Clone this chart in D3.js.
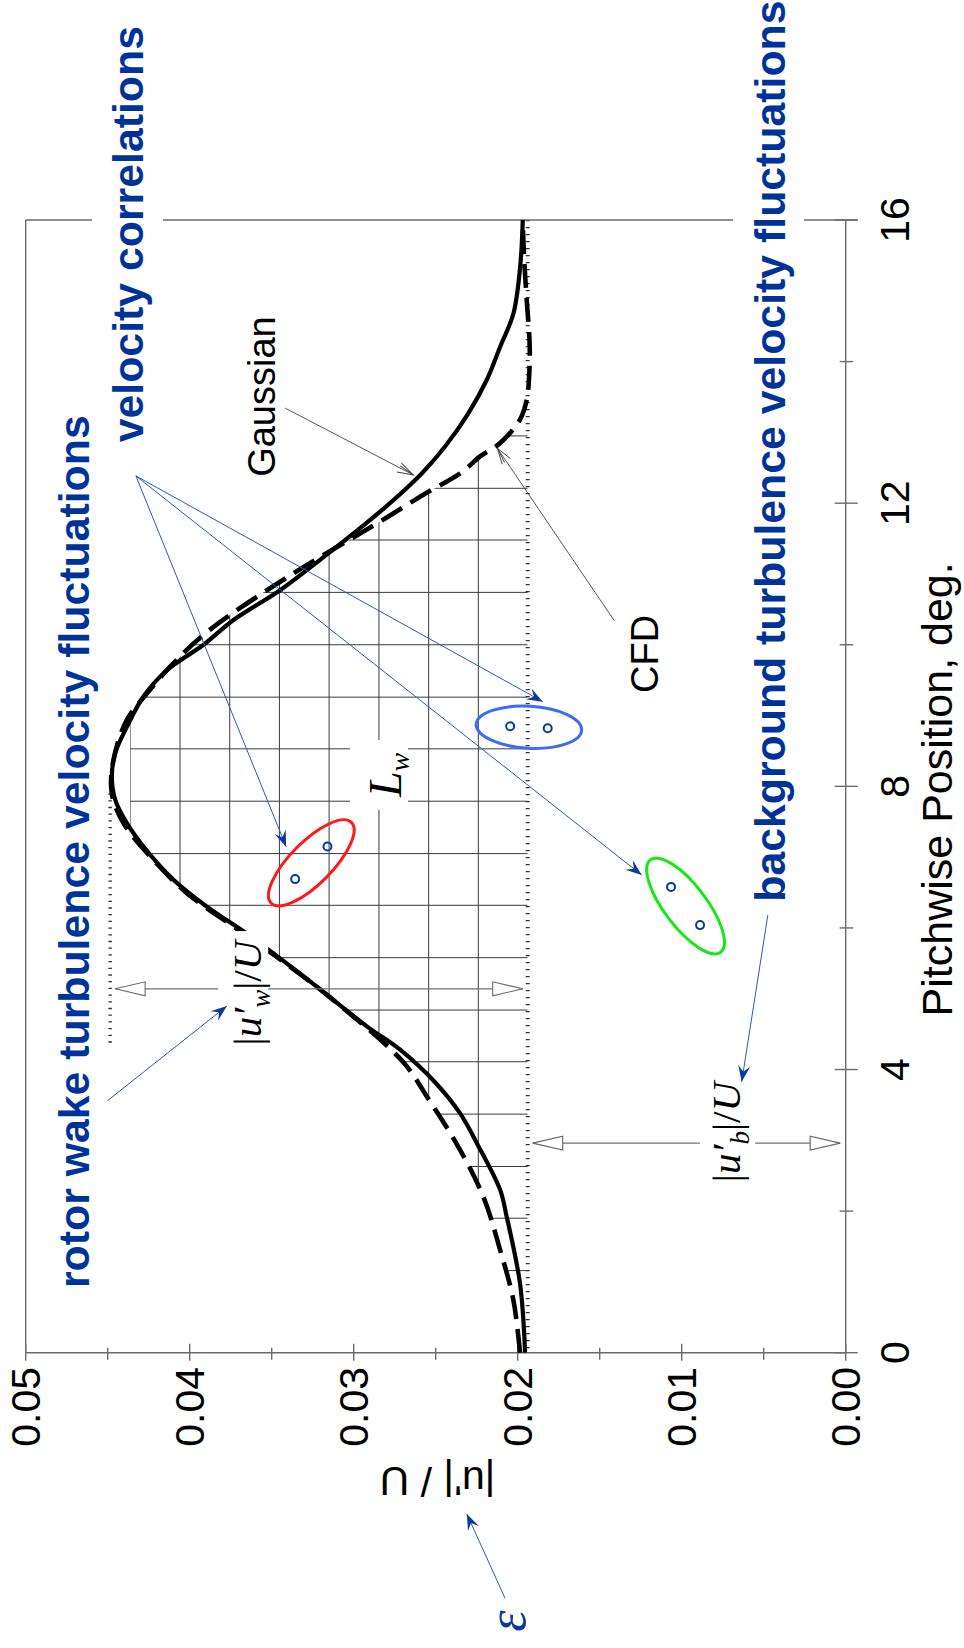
<!DOCTYPE html>
<html><head><meta charset="utf-8">
<script src="https://cdn.jsdelivr.net/npm/d3@7"></script>
<style>body{margin:0;background:#fff} svg{display:block}</style>
</head><body>
<svg id="c" width="964" height="1648"></svg>
<script>
// ---------------- data ----------------
const valueTicks = [0, 0.01, 0.02, 0.03, 0.04, 0.05];
const valueTickLabels = ["0.00", "0.01", "0.02", "0.03", "0.04", "0.05"];
const valueMinorTicks = [0.005, 0.015, 0.025, 0.035, 0.045];
const pitchTicks = [0, 4, 8, 12, 16];
const pitchTickLabels = ["0", "4", "8", "12", "16"];
const pitchMinorTicks = [2, 6, 10, 14];

const gaussPitch = [0, 0.98, 1.92, 2.30, 2.96, 3.38, 3.81, 4.28, 4.61, 5.17, 5.64, 5.92, 6.30, 6.68, 7.15, 7.48, 7.81, 8.14, 8.47, 8.84, 9.27, 9.64, 10.00, 10.35, 10.77, 11.20, 11.88, 12.42, 12.80, 13.27, 13.74, 14.21, 14.68, 15.34, 16.0];
const gaussValue = [0.01955, 0.01986, 0.02067, 0.02107, 0.02249, 0.02351, 0.02500, 0.02717, 0.02920, 0.03225, 0.03489, 0.03652, 0.03895, 0.04099, 0.04282, 0.04383, 0.04454, 0.04475, 0.04454, 0.04383, 0.04282, 0.04139, 0.03916, 0.03733, 0.03449, 0.03205, 0.02839, 0.02585, 0.02443, 0.02301, 0.02189, 0.02107, 0.02026, 0.01985, 0.01969];

const cfdPitch = [0, 0.74, 1.45, 2.20, 2.90, 3.62, 4.11, 4.98, 5.59, 6.02, 6.49, 6.96, 7.48, 7.90, 8.37, 8.94, 9.31, 9.69, 10.18, 11.01, 11.74, 12.12, 12.42, 12.66, 12.85, 13.18, 13.46, 13.90, 14.30, 14.87, 15.43, 16.0];
const cfdValue = [0.01986, 0.02026, 0.02107, 0.02209, 0.02360, 0.02554, 0.02700, 0.03124, 0.03469, 0.03733, 0.04017, 0.04221, 0.04404, 0.04475, 0.04465, 0.04383, 0.04261, 0.04119, 0.03895, 0.03367, 0.02839, 0.02575, 0.02351, 0.02229, 0.02107, 0.01986, 0.01945, 0.01928, 0.01928, 0.01945, 0.01960, 0.01970];

const backgroundLevel = 0.01939;
const peakLevel = 0.04485;
const peakLinePitch = [4.37, 7.9];

const gridPitch = [12.95, 12.21, 11.48, 10.74, 10.00, 9.26, 8.53, 7.79, 7.05, 6.32, 5.58, 4.84, 4.11, 3.37, 2.63, 1.90, 1.16];
const gridValue = [0.04363, 0.04059, 0.03756, 0.03453, 0.03150, 0.02846, 0.02543, 0.02240];
const gridPitchRange = [1.10, 13.02];

const corrValue = [0.03357, 0.03160, 0.02046, 0.01817, 0.01065, 0.00888];
const corrPitch = [6.69, 7.15, 8.85, 8.82, 6.58, 6.04];
const corrGroup = [0, 0, 1, 1, 2, 2];

const wakeArrowPitch = 5.14;
const bgArrowPitch = 2.96;

// ---------------- scales ----------------
const svg = d3.select("#c");
const xV = d3.scaleLinear().domain([0, 0.05]).range([845.7, 25.7]);
const yP = d3.scaleLinear().domain([0, 16]).range([1352.7, 220]);
const P = (v, p) => [xV(v), yP(p)];

const FONT = "'Liberation Sans', Arial, sans-serif";
const SERIF = "'Liberation Serif', 'Times New Roman', serif";
const BLUE_TXT = "#003399";
const BLUE_LN = "#2f56b8";
const ellipseColors = ["#ff1a1a", "#3b6cf5", "#19e619"];

svg.append("rect").attr("width", 964).attr("height", 1648).attr("fill", "#fff");

const defs = svg.append("defs");
defs.append("marker").attr("id", "bh").attr("viewBox", "-17 -8 19 16")
  .attr("markerUnits", "userSpaceOnUse").attr("markerWidth", 19).attr("markerHeight", 16)
  .attr("refX", 0).attr("refY", 0).attr("orient", "auto")
  .append("path").attr("d", "M0,0 L-16,-6 L-10,0 L-16,6 Z").attr("fill", "#0a3a9a");
defs.append("marker").attr("id", "vh").attr("viewBox", "-17 -8 19 16")
  .attr("markerUnits", "userSpaceOnUse").attr("markerWidth", 19).attr("markerHeight", 16)
  .attr("refX", 0).attr("refY", 0).attr("orient", "auto")
  .append("path").attr("d", "M-16,-5 L0,0 L-16,5 M-16,-2 L0,0").attr("fill", "none")
  .attr("stroke", "#444").attr("stroke-width", 0.9);
defs.append("marker").attr("id", "th").attr("viewBox", "-33 -10 36 20")
  .attr("markerUnits", "userSpaceOnUse").attr("markerWidth", 36).attr("markerHeight", 20)
  .attr("refX", 0).attr("refY", 0).attr("orient", "auto")
  .append("path").attr("d", "M0,0 L-30,-7 L-30,7 Z").attr("fill", "#fff")
  .attr("stroke", "#666").attr("stroke-width", 1.1);

// ---------------- grid (hatched wake area) ----------------
const cfdData = cfdPitch.map((p, i) => ({p, v: cfdValue[i]}));
const gaussData = gaussPitch.map((p, i) => ({p, v: gaussValue[i]}));

const clipArea = d3.area()
  .y(d => yP(d.p)).x0(xV(backgroundLevel))
  .x1(d => xV(Math.min(d.v, gridValue[0])))
  .curve(d3.curveMonotoneY);
defs.append("clipPath").attr("id", "gclipA").append("path").attr("d", clipArea(cfdData));
defs.append("clipPath").attr("id", "gclipB").append("rect")
  .attr("x", 0).attr("width", 964)
  .attr("y", yP(gridPitchRange[1])).attr("height", yP(gridPitchRange[0]) - yP(gridPitchRange[1]));

const gOuter = svg.append("g").attr("clip-path", "url(#gclipB)");
const grid = gOuter.append("g").attr("clip-path", "url(#gclipA)")
  .attr("stroke", "#3a3a3a").attr("stroke-width", 1);
grid.selectAll(".gh").data(gridPitch).join("line")
  .attr("x1", xV(gridValue[0])).attr("x2", xV(backgroundLevel))
  .attr("y1", d => yP(d)).attr("y2", d => yP(d));
grid.selectAll(".gv").data(gridValue).join("line")
  .attr("x1", d => xV(d)).attr("x2", d => xV(d))
  .attr("y1", yP(16)).attr("y2", yP(0));

// L_w label box
const lwPos = P(0.02711, 8.161);
svg.append("rect").attr("x", 350).attr("y", lwPos[1] - 35).attr("width", 58).attr("height", 70).attr("fill", "#fff");

// ---------------- dotted reference lines ----------------
svg.append("line")
  .attr("x1", xV(backgroundLevel)).attr("x2", xV(backgroundLevel))
  .attr("y1", yP(16)).attr("y2", yP(0))
  .attr("stroke", "#333").attr("stroke-width", 4).attr("stroke-dasharray", "1.3 5.7");
svg.append("line")
  .attr("x1", xV(peakLevel)).attr("x2", xV(peakLevel))
  .attr("y1", yP(peakLinePitch[1])).attr("y2", yP(peakLinePitch[0]))
  .attr("stroke", "#333").attr("stroke-width", 3.5).attr("stroke-dasharray", "1.3 5.4");

// ---------------- axes / frame ----------------
const ax = svg.append("g").attr("stroke", "#6b6b6b").attr("stroke-width", 1.4);
const yB = yP(0), xR = xV(0);
ax.append("line").attr("x1", xV(0.05)).attr("x2", xR + 12).attr("y1", yP(16)).attr("y2", yP(16));
ax.append("line").attr("x1", xV(0.05)).attr("x2", xV(0.05)).attr("y1", yP(16)).attr("y2", yB);
ax.append("line").attr("x1", xV(0.05)).attr("x2", xR).attr("y1", yB).attr("y2", yB);
ax.append("line").attr("x1", xR).attr("x2", xR).attr("y1", yP(16)).attr("y2", yB);
ax.selectAll(".vt").data(valueTicks).join("line")
  .attr("x1", d => xV(d)).attr("x2", d => xV(d)).attr("y1", yB - 9).attr("y2", yB + 8);
ax.selectAll(".vm").data(valueMinorTicks).join("line")
  .attr("x1", d => xV(d)).attr("x2", d => xV(d)).attr("y1", yB - 5).attr("y2", yB + 7);
ax.selectAll(".pt").data(pitchTicks).join("line")
  .attr("y1", d => yP(d)).attr("y2", d => yP(d)).attr("x1", xR - 11).attr("x2", xR + 12);
ax.selectAll(".pm").data(pitchMinorTicks).join("line")
  .attr("y1", d => yP(d)).attr("y2", d => yP(d)).attr("x1", xR - 6).attr("x2", xR + 7.5);

svg.selectAll(".vl").data(valueTicks).join("text")
  .attr("transform", d => `translate(${xV(d)},1367) rotate(-90)`)
  .attr("dy", "0.36em").attr("text-anchor", "end")
  .attr("font-family", FONT).attr("font-size", 41).attr("fill", "#000")
  .text((d, i) => valueTickLabels[i]);
svg.selectAll(".pl").data(pitchTicks).join("text")
  .attr("transform", d => `translate(909,${yP(d)}) rotate(-90)`)
  .attr("text-anchor", "middle")
  .attr("font-family", FONT).attr("font-size", 41).attr("fill", "#000")
  .text((d, i) => pitchTickLabels[i]);
svg.append("text").attr("transform", `translate(952,${yP(8) + 3}) rotate(-90)`)
  .attr("text-anchor", "middle").attr("font-family", FONT).attr("font-size", 43)
  .text("Pitchwise Position, deg.");
svg.append("text").attr("transform", `translate(437.5,1467) rotate(180)`)
  .attr("text-anchor", "middle").attr("font-family", FONT).attr("font-size", 41)
  .text("|u'| / U");

// ---------------- curves ----------------
const line = d3.line().x(d => xV(d.v)).y(d => yP(d.p)).curve(d3.curveCatmullRom.alpha(0.5));
svg.append("path").attr("d", line(gaussData)).attr("fill", "none")
  .attr("stroke", "#000").attr("stroke-width", 4.2);
svg.append("path").attr("d", line(cfdData)).attr("fill", "none")
  .attr("stroke", "#000").attr("stroke-width", 4.6).attr("stroke-dasharray", "24 10");

// ---------------- |u'|/U arrows ----------------
const wakeLbl = P(0.03564, 5.08);
const wy = yP(wakeArrowPitch);
const arr = svg.append("g").attr("stroke", "#707070").attr("stroke-width", 1.3);
arr.append("line").attr("x1", wakeLbl[0] - 10).attr("y1", wy).attr("x2", xV(peakLevel) + 5).attr("y2", wy).attr("marker-end", "url(#th)");
arr.append("line").attr("x1", wakeLbl[0] - 10).attr("y1", wy).attr("x2", xV(backgroundLevel) - 5).attr("y2", wy).attr("marker-end", "url(#th)");
const bgLbl = P(0.00644, 3.116);
const by = yP(bgArrowPitch);
arr.append("line").attr("x1", bgLbl[0] - 10).attr("y1", by).attr("x2", xV(backgroundLevel) + 5).attr("y2", by).attr("marker-end", "url(#th)");
arr.append("line").attr("x1", bgLbl[0] - 10).attr("y1", by).attr("x2", xR - 5.5).attr("y2", by).attr("marker-end", "url(#th)");

// label boxes (cut curves/lines)
svg.append("rect").attr("x", wakeLbl[0] - 43).attr("y", wakeLbl[1] - 62).attr("width", 50).attr("height", 118).attr("fill", "#fff");
svg.append("rect").attr("x", bgLbl[0] - 40).attr("y", bgLbl[1] - 52).attr("width", 55).attr("height", 105).attr("fill", "#fff");

function magLabel(pos, sub) {
  const t = svg.append("text").attr("transform", `translate(${pos[0]},${pos[1]}) rotate(-90)`)
    .attr("text-anchor", "middle").attr("font-family", SERIF).attr("font-size", 41).attr("fill", "#000");
  t.append("tspan").text("|");
  t.append("tspan").attr("font-style", "italic").text("u\u2032");
  t.append("tspan").attr("font-style", "italic").attr("font-size", 27).attr("dy", 9).text(sub);
  t.append("tspan").attr("dy", -9).text("|/");
  t.append("tspan").attr("font-style", "italic").text("U");
}
magLabel(wakeLbl, "w");
magLabel(bgLbl, "b");

const lw = svg.append("text").attr("transform", `translate(${lwPos[0]},${lwPos[1]}) rotate(-90)`)
  .attr("text-anchor", "middle").attr("font-family", SERIF).attr("font-style", "italic").attr("font-size", 46);
lw.append("tspan").text("L");
lw.append("tspan").attr("font-size", 28).attr("dy", 8).text("w");

// ---------------- Gaussian / CFD labels ----------------
const gPos = P(0.03479, 12.372);
svg.append("text").attr("transform", `translate(${gPos[0]},${gPos[1]}) rotate(-90)`)
  .attr("font-family", FONT).attr("font-size", 38).text("Gaussian");
const cPos = P(0.01144, 9.32);
svg.append("text").attr("transform", `translate(${cPos[0]},${cPos[1]}) rotate(-90)`)
  .attr("font-family", FONT).attr("font-size", 38).text("CFD");
function pointer(a, b, marker, color, w) {
  svg.append("line").attr("x1", a[0]).attr("y1", a[1]).attr("x2", b[0]).attr("y2", b[1])
    .attr("stroke", color).attr("stroke-width", w).attr("marker-end", `url(#${marker})`);
}
pointer(P(0.03418, 13.343), P(0.02636, 12.399), "vh", "#444", 0.9);
pointer(P(0.01411, 10.340), P(0.02124, 12.776), "vh", "#444", 0.9);

// ---------------- correlation ellipses & points ----------------
[0, 1, 2].forEach(g => {
  const pts = corrValue.map((v, i) => ({v, p: corrPitch[i], g: corrGroup[i]})).filter(d => d.g === g);
  const a = P(pts[0].v, pts[0].p), b = P(pts[1].v, pts[1].p);
  const cx = (a[0] + b[0]) / 2, cy = (a[1] + b[1]) / 2;
  const ang = Math.atan2(b[1] - a[1], b[0] - a[0]) * 180 / Math.PI;
  const half = Math.hypot(b[0] - a[0], b[1] - a[1]) / 2;
  svg.append("ellipse").attr("transform", `translate(${cx},${cy}) rotate(${ang})`)
    .attr("rx", half + 34).attr("ry", 21).attr("fill", "none")
    .attr("stroke", ellipseColors[g]).attr("stroke-width", 3);
});
svg.selectAll(".cp").data(corrValue).join("circle")
  .attr("cx", d => xV(d)).attr("cy", (d, i) => yP(corrPitch[i])).attr("r", 4)
  .attr("fill", "none").attr("stroke", "#0a3a9a").attr("stroke-width", 2);

// ---------------- blue annotation texts ----------------
svg.append("rect").attr("x", 92).attr("y", 10).attr("width", 71).attr("height", 442).attr("fill", "#fff");
svg.append("rect").attr("x", 733).attr("y", 0).attr("width", 71).attr("height", 912).attr("fill", "#fff");
function blueText(pos, s) {
  svg.append("text").attr("transform", `translate(${pos[0]},${pos[1]}) rotate(-90)`)
    .attr("font-family", FONT).attr("font-weight", "bold").attr("font-size", 42.8)
    .attr("fill", BLUE_TXT).text(s);
}
blueText(P(0.04613, 0.913), "rotor wake turbulence velocity fluctuations");
blueText(P(0.04284, 12.86), "velocity correlations");
blueText(P(0.00371, 6.37), "background turbulence velocity fluctuations");

const vc = P(0.04328, 12.385);
pointer(vc, P(0.03412, 7.148), "bh", BLUE_LN, 1);
pointer(vc, P(0.01847, 9.196), "bh", BLUE_LN, 1);
pointer(vc, P(0.01244, 6.748), "bh", BLUE_LN, 1);
pointer(P(0.04501, 3.560), P(0.03773, 4.898), "bh", BLUE_LN, 1);
pointer(P(0.00475, 6.18), P(0.00634, 3.828), "bh", BLUE_LN, 1);
pointer(P(0.02077, -3.469), P(0.02310, -2.278), "bh", BLUE_LN, 1);

const ePos = P(0.01957, -3.79);
svg.append("text").attr("transform", `translate(${ePos[0]},${ePos[1]}) rotate(-90)`)
  .attr("text-anchor", "middle").attr("font-family", SERIF).attr("font-style", "italic")
  .attr("font-size", 54).attr("fill", "#0a3a9a").text("\u03b5");
</script>
</body></html>
